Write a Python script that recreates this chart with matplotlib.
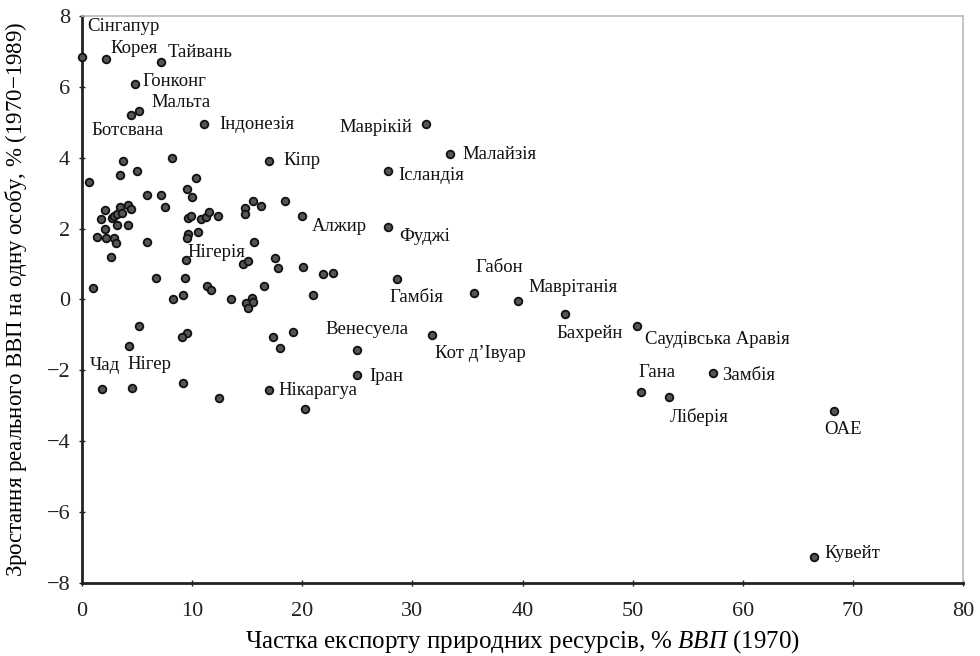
import matplotlib
matplotlib.use("Agg")
import matplotlib.pyplot as plt

plt.rcParams['font.family'] = ['Liberation Serif', 'DejaVu Serif']
plt.rcParams['mathtext.fontset'] = 'custom'
plt.rcParams['mathtext.rm'] = 'Liberation Serif'
plt.rcParams['mathtext.it'] = 'Liberation Serif:italic'

# labelled countries: name, export share (% GDP, 1970), growth (% 1970-1989)
names = ['Сінгапур', 'Корея', 'Тайвань', 'Гонконг', 'Мальта', 'Ботсвана',
         'Індонезія', 'Кіпр', 'Маврікій', 'Малайзія', 'Ісландія', 'Алжир',
         'Фуджі', 'Нігерія', 'Гамбія', 'Габон', 'Маврітанія', 'Бахрейн',
         'Саудівська Аравія', 'Кот д’Івуар', 'Венесуела', 'Іран', 'Чад',
         'Нігер', 'Нікарагуа', 'Гана', 'Ліберія', 'Замбія', 'ОАЕ', 'Кувейт']
lab_x = [0.0, 2.2, 7.2, 4.8, 5.2, 4.45, 11.1, 17.0, 31.2, 33.4, 27.8, 20.0,
         27.8, 9.4, 28.6, 35.6, 39.6, 43.9, 50.4, 31.8, 25.0, 25.0, 1.8,
         4.5, 17.0, 50.8, 53.3, 57.3, 68.3, 66.5]
lab_y = [6.85, 6.8, 6.7, 6.08, 5.33, 5.2, 4.95, 3.92, 4.95, 4.1, 3.63, 2.35,
         2.05, 1.11, 0.57, 0.19, -0.03, -0.41, -0.75, -1.0, -1.42, -2.13,
         -2.53, -2.49, -2.55, -2.6, -2.76, -2.07, -3.14, -7.27]

# unlabelled countries
other_x = [3.7, 8.15, 0.64, 3.45, 5.0, 10.33, 9.5, 5.87, 7.18, 9.96, 7.54,
           2.09, 3.45, 4.15, 4.42, 1.7, 2.7, 2.94, 3.15, 3.6, 3.15, 4.21,
           2.09, 1.39, 2.18, 2.94, 3.09, 2.6, 5.87,
           9.66, 9.9, 10.8, 11.23, 11.53, 12.33, 9.6, 9.5, 10.5,
           14.8, 14.8, 15.5, 16.23, 18.4, 15.6, 14.6, 15.1, 17.5, 17.8,
           20.1, 21.86, 22.77, 20.95,
           0.97, 6.7, 9.36, 11.32, 11.7, 16.53, 8.23, 9.2, 13.5, 14.9, 15.4,
           15.56, 15.1,
           5.2, 9.5, 9.05, 4.3, 17.3, 19.2, 18.0, 9.14, 12.47, 20.25]
other_y = [3.91, 3.98, 3.32, 3.51, 3.63, 3.44, 3.12, 2.95, 2.95, 2.88, 2.6,
           2.53, 2.6, 2.67, 2.55, 2.26, 2.29, 2.36, 2.41, 2.43, 2.1, 2.1,
           2.0, 1.75, 1.73, 1.73, 1.59, 1.19, 1.63,
           2.29, 2.36, 2.26, 2.32, 2.48, 2.36, 1.85, 1.73, 1.91,
           2.57, 2.41, 2.79, 2.64, 2.78, 1.63, 0.99, 1.08, 1.16, 0.9,
           0.92, 0.72, 0.76, 0.13,
           0.33, 0.62, 0.62, 0.39, 0.27, 0.39, 0.0, 0.13, 0.0, -0.11, 0.03,
           -0.06, -0.25,
           -0.75, -0.95, -1.05, -1.3, -1.05, -0.91, -1.38, -2.35, -2.79, -3.08]

# label placement in pixels (dx right, dy down) and alignment
label_pos = {
    'Сінгапур': (5, -30, 'left'), 'Корея': (4, -10, 'left'),
    'Тайвань': (6, -10, 'left'), 'Гонконг': (8, -3, 'left'),
    'Мальта': (12, -8, 'left'), 'Ботсвана': (-3, 15, 'center'),
    'Індонезія': (15, 0, 'left'), 'Кіпр': (14, 0, 'left'),
    'Маврікій': (-13, 3, 'right'), 'Малайзія': (13, 0, 'left'),
    'Ісландія': (10, 5, 'left'), 'Алжир': (10, 10, 'left'),
    'Фуджі': (11, 10, 'left'), 'Нігерія': (2, -8, 'left'),
    'Гамбія': (-8, 18, 'left'), 'Габон': (1, -25, 'left'),
    'Маврітанія': (10, -13, 'left'), 'Бахрейн': (-9, 19, 'left'),
    'Саудівська Аравія': (8, 13, 'left'), 'Кот д’Івуар': (3, 19, 'left'),
    'Венесуела': (10, -20, 'center'), 'Іран': (12, 2, 'left'),
    'Чад': (-12, -24, 'left'), 'Нігер': (-4, -23, 'left'),
    'Нікарагуа': (9, 1, 'left'), 'Гана': (-3, -19, 'left'),
    'Ліберія': (1, 20, 'left'), 'Замбія': (9, 3, 'left'),
    'ОАЕ': (-10, 19, 'left'), 'Кувейт': (10, -4, 'left'),
}

fig = plt.figure(figsize=(9.8, 6.56), dpi=100)
ax = fig.add_axes([0.0837, 0.1113, 0.899, 0.8643])

ax.plot(other_x + lab_x, other_y + lab_y, 'o', ms=5.5, mfc='#555555',
        mec='#111111', mew=1.3, clip_on=False, zorder=3)

for name, x, y in zip(names, lab_x, lab_y):
    dx, dy, ha = label_pos[name]
    ax.annotate(name, (x, y), xytext=(dx, -dy), textcoords='offset pixels',
                ha=ha, va='center', fontsize=13.5, color='#111111')

ax.set_xlim(0, 80)
ax.set_ylim(-8, 8)
ax.set_xticks(range(0, 81, 10))
ax.set_yticks(range(-8, 9, 2))
ax.set_yticklabels([str(v).replace('-', '−') for v in range(-8, 9, 2)])

for side in ['left', 'bottom']:
    ax.spines[side].set_linewidth(2)
    ax.spines[side].set_color('#222222')
for side in ['top', 'right']:
    ax.spines[side].set_linewidth(1.2)
    ax.spines[side].set_color('#bbbbbb')

ax.tick_params(direction='inout', length=5, width=1, labelsize=16,
               colors='#222222')
ax.tick_params(axis='x', pad=11)
ax.tick_params(axis='y', pad=6)

ax.set_xlabel(r'Частка експорту природних ресурсів, $\mathit{\%\ ВВП}$ (1970)',
              fontsize=18, labelpad=5)
ax.set_ylabel(r'Зростання реального ВВП на одну особу, $\mathit{\%}$ (1970−1989)',
              fontsize=16.5, labelpad=13)

fig.savefig('out.png', dpi=100)
